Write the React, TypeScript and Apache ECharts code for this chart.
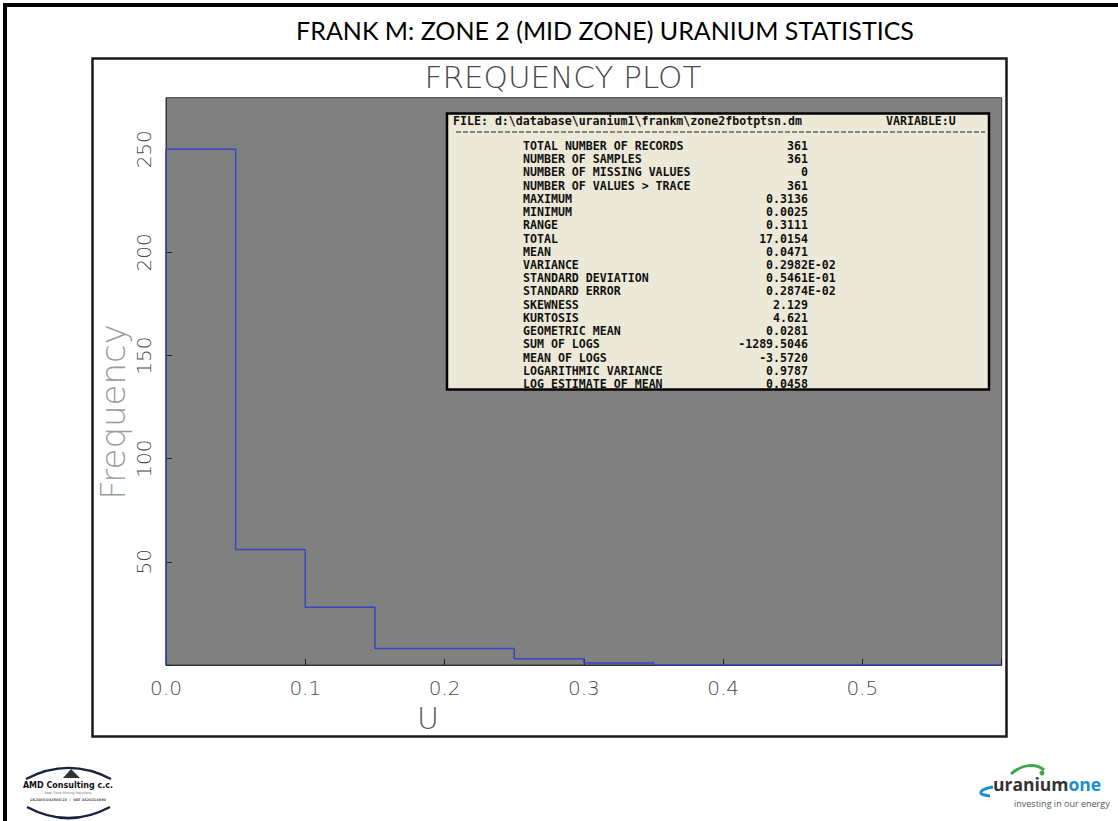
import React, { useEffect, useRef } from "react";
import * as echarts from "echarts";

const binEdges = [0, 0.05, 0.1, 0.15, 0.2, 0.25, 0.3, 0.35, 0.6];
const binCounts = [250, 56, 28, 8, 8, 3, 1, 0, 0];
const xTicks = [0, 0.1, 0.2, 0.3, 0.4, 0.5];

const fileLine = "FILE: d:\\database\\uranium1\\frankm\\zone2fbotptsn.dm";
const variableLine = "VARIABLE:U";
const statLabels = [
  "TOTAL NUMBER OF RECORDS",
  "NUMBER OF SAMPLES",
  "NUMBER OF MISSING VALUES",
  "NUMBER OF VALUES > TRACE",
  "MAXIMUM",
  "MINIMUM",
  "RANGE",
  "TOTAL",
  "MEAN",
  "VARIANCE",
  "STANDARD DEVIATION",
  "STANDARD ERROR",
  "SKEWNESS",
  "KURTOSIS",
  "GEOMETRIC MEAN",
  "SUM OF LOGS",
  "MEAN OF LOGS",
  "LOGARITHMIC VARIANCE",
  "LOG ESTIMATE OF MEAN",
];
const statValues = [
  "361",
  "361",
  "0",
  "361",
  "0.3136",
  "0.0025",
  "0.3111",
  "17.0154",
  "0.0471",
  "0.2982E-02",
  "0.5461E-01",
  "0.2874E-02",
  "2.129",
  "4.621",
  "0.0281",
  "-1289.5046",
  "-3.5720",
  "0.9787",
  "0.0458",
];

export default function App() {
  const ref = useRef<HTMLDivElement>(null);
  useEffect(() => {
    if (!ref.current) return;
    const chart = echarts.init(ref.current, null, { renderer: "svg" });

    const stepData: [number, number][] = [[binEdges[0], 0]];
    for (let i = 0; i < binCounts.length; i++) {
      stepData.push([binEdges[i], binCounts[i]]);
    }

    const mono = "'DejaVu Sans Mono', monospace";
    const cw = 7.0;
    const rowY0 = 146;
    const rowDy = 13.22;
    const valEnd = 808;
    const statTexts: any[] = [];
    statLabels.forEach((lab, i) => {
      statTexts.push({
        type: "text",
        z: 110,
        x: 523,
        y: rowY0 + i * rowDy,
        style: {
          text: lab,
          font: `bold 11.6px ${mono}`,
          fill: "#111",
          verticalAlign: "middle",
          align: "left",
        },
      });
      const v = statValues[i];
      const isE = v.indexOf("E") >= 0;
      statTexts.push({
        type: "text",
        z: 110,
        x: isE ? valEnd - 6 * cw : valEnd,
        y: rowY0 + i * rowDy,
        style: {
          text: v,
          font: `bold 11.6px ${mono}`,
          fill: "#111",
          verticalAlign: "middle",
          align: isE ? "left" : "right",
        },
      });
    });

    const option: any = {
      animation: false,
      backgroundColor: "#ffffff",
      grid: {
        left: 166,
        top: 97.7,
        right: 116.3,
        bottom: 156,
        show: true,
        backgroundColor: "#808080",
        borderColor: "#3a3a3a",
        borderWidth: 1,
      },
      xAxis: {
        type: "value",
        min: 0,
        max: 0.6,
        interval: 0.1,
        axisLine: { show: true, lineStyle: { color: "#333", width: 1 } },
        axisTick: { show: true, inside: true, length: 6, lineStyle: { color: "#222" } },
        splitLine: { show: false },
        axisLabel: {
          margin: 13,
          fontSize: 20,
          fontFamily: "DejaVu Sans",
          fontWeight: 300,
          color: "#4a4a4a",
          formatter: (v: number) => (xTicks.some((t) => Math.abs(t - v) < 1e-9) ? v.toFixed(1) : ""),
        },
      },
      yAxis: {
        type: "value",
        min: 0,
        max: 275,
        interval: 50,
        axisLine: { show: true, lineStyle: { color: "#333", width: 1 } },
        axisTick: { show: true, inside: true, length: 6, lineStyle: { color: "#222" } },
        splitLine: { show: false },
        axisLabel: {
          rotate: 90,
          margin: 12,
          fontSize: 20,
          fontFamily: "DejaVu Sans",
          fontWeight: 300,
          color: "#4a4a4a",
          showMaxLabel: false,
          formatter: (v: number) => (v === 0 || v > 250 ? "" : String(v)),
        },
      },
      series: [
        {
          type: "line",
          step: "end",
          data: stepData,
          showSymbol: false,
          symbol: "none",
          lineStyle: { color: "#3346c4", width: 1.5 },
          z: 5,
        },
      ],
      graphic: [
        // page border
        { type: "rect", z: 100, shape: { x: 3, y: 3, width: 1115, height: 4 }, style: { fill: "#000" } },
        { type: "rect", z: 100, shape: { x: 3, y: 3, width: 4, height: 818 }, style: { fill: "#000" } },
        // slide title
        {
          type: "text",
          z: 100,
          x: 605,
          y: 30,
          style: {
            text: "FRANK M: ZONE 2 (MID ZONE) URANIUM STATISTICS",
            font: "25px Lato, 'Open Sans', sans-serif",
            fill: "#000",
            align: "center",
            verticalAlign: "middle",
          },
        },
        // plot frame
        {
          type: "rect",
          z: 100,
          shape: { x: 92.5, y: 58.5, width: 914, height: 678 },
          style: { fill: "none", stroke: "#1a1a1a", lineWidth: 2.5 },
        },
        {
          type: "text",
          z: 100,
          x: 563,
          y: 77,
          style: {
            text: "FREQUENCY PLOT",
            font: "200 31px 'DejaVu Sans', sans-serif",
            fill: "#4a4a4a",
            align: "center",
            verticalAlign: "middle",
          },
        },
        {
          type: "text",
          z: 100,
          x: 113,
          y: 412,
          rotation: Math.PI / 2,
          style: {
            text: "Frequency",
            font: "200 34px 'DejaVu Sans', sans-serif",
            fill: "#9a9a9a",
            align: "center",
            verticalAlign: "middle",
          },
        },
        {
          type: "text",
          z: 100,
          x: 428,
          y: 718,
          style: {
            text: "U",
            font: "200 30px 'DejaVu Sans', sans-serif",
            fill: "#555",
            align: "center",
            verticalAlign: "middle",
          },
        },
        // stats box
        {
          type: "rect",
          z: 100,
          shape: { x: 447, y: 113.5, width: 542, height: 276 },
          style: { fill: "#ece9d8", stroke: "#000", lineWidth: 2.5 },
        },
        {
          type: "text",
          z: 110,
          x: 453,
          y: 121,
          style: {
            text: fileLine,
            font: `bold 11.6px ${mono}`,
            fill: "#111",
            verticalAlign: "middle",
            align: "left",
          },
        },
        {
          type: "text",
          z: 110,
          x: 886,
          y: 121,
          style: {
            text: variableLine,
            font: `bold 11.6px ${mono}`,
            fill: "#111",
            verticalAlign: "middle",
            align: "left",
          },
        },
        {
          type: "line",
          z: 110,
          shape: { x1: 456, y1: 132, x2: 985, y2: 132 },
          style: { stroke: "#222", lineWidth: 1, lineDash: [5, 2] },
        },
        ...statTexts,
        // AMD Consulting logo
        {
          type: "bezierCurve",
          z: 100,
          shape: { x1: 26, y1: 779, cpx1: 55, cpy1: 764, x2: 111, y2: 779, cpx2: 82, cpy2: 764 },
          style: { stroke: "#1b2240", lineWidth: 2.5, fill: "none" },
        },
        {
          type: "polygon",
          z: 100,
          shape: { points: [[71, 769], [63, 778], [80, 778]] },
          style: { fill: "#333" },
        },
        {
          type: "text",
          z: 100,
          x: 68,
          y: 785,
          style: {
            text: "AMD Consulting c.c.",
            font: "bold 8px 'DejaVu Sans', sans-serif",
            fill: "#111",
            align: "center",
            verticalAlign: "middle",
          },
        },
        {
          type: "text",
          z: 100,
          x: 68,
          y: 793,
          style: {
            text: "Real Time Mining Solutions",
            font: "3.5px 'DejaVu Sans', sans-serif",
            fill: "#777",
            align: "center",
            verticalAlign: "middle",
          },
        },
        {
          type: "text",
          z: 100,
          x: 68,
          y: 800,
          style: {
            text: "CK2003/032805/23  /  VAT 4320214690",
            font: "bold 3.5px 'DejaVu Sans', sans-serif",
            fill: "#555",
            align: "center",
            verticalAlign: "middle",
          },
        },
        {
          type: "bezierCurve",
          z: 100,
          shape: { x1: 27, y1: 807, cpx1: 55, cpy1: 822, x2: 110, y2: 807, cpx2: 82, cpy2: 822 },
          style: { stroke: "#1b2240", lineWidth: 2.5, fill: "none" },
        },
        // uraniumone logo
        {
          type: "bezierCurve",
          z: 100,
          shape: { x1: 1011, y1: 774, cpx1: 1022, cpy1: 764, x2: 1044, y2: 770, cpx2: 1036, cpy2: 763 },
          style: { stroke: "#3aa84a", lineWidth: 3, fill: "none" },
        },
        { type: "circle", z: 100, shape: { cx: 1042, cy: 773, r: 2.5 }, style: { fill: "#3aa84a" } },
        {
          type: "bezierCurve",
          z: 100,
          shape: { x1: 993, y1: 787, cpx1: 980, cpy1: 789, x2: 990, y2: 796, cpx2: 975, cpy2: 795 },
          style: { stroke: "#1a8fd0", lineWidth: 3, fill: "none" },
        },
        {
          type: "text",
          z: 100,
          x: 993,
          y: 784,
          style: {
            rich: {
              a: { font: "bold 17.5px 'Open Sans', sans-serif", fill: "#333", lineHeight: 16 },
              b: { font: "bold 17.5px 'Open Sans', sans-serif", fill: "#1a8fd0", lineHeight: 16 },
            },
            text: "{a|uranium}{b|one}",
            align: "left",
            verticalAlign: "middle",
          },
        },
        {
          type: "text",
          z: 100,
          x: 1014,
          y: 803,
          style: {
            text: "investing in our energy",
            font: "9px 'Open Sans', sans-serif",
            fill: "#555",
            align: "left",
            verticalAlign: "middle",
            lineHeight: 10,
          },
        },
      ],
    };
    chart.setOption(option);
    return () => chart.dispose();
  }, []);

  return (
    <div
      ref={ref}
      style={{ position: "fixed", left: 0, top: 0, width: 1118, height: 821, background: "#fff" }}
    />
  );
}
